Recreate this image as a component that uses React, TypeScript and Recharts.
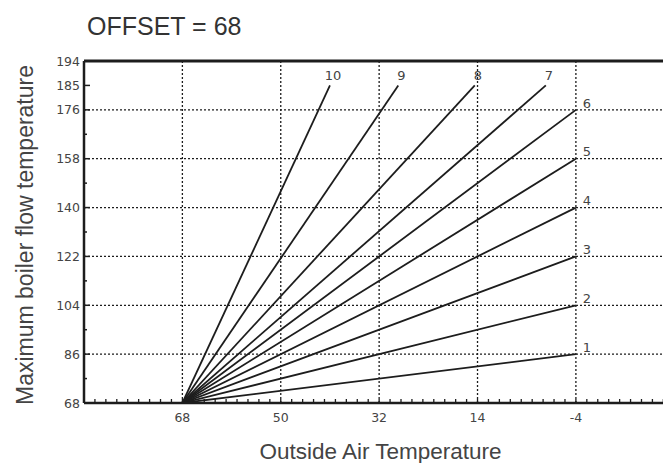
import React from 'react';
import { LineChart, Line, XAxis, YAxis, ReferenceLine, Label } from 'recharts';

// heating curves: every curve starts at the offset point and ends at its own max
const curveNames = ['1', '2', '3', '4', '5', '6', '7', '8', '9', '10'];
const originOutside = 68;
const originFlow = 68;
const endOutside = [-4, -4, -4, -4, -4, -4, 1.5, 14.5, 28.5, 41];
const endFlow = [86, 104, 122, 140, 158, 176, 185, 185, 185, 185];

const xLabels = [68, 50, 32, 14, -4];
const yLabels = [68, 86, 104, 122, 140, 158, 176, 185, 194];
const yGrid = [86, 104, 122, 140, 158, 176];
const xDomain: [number, number] = [-21.4, 86];
const yDomain: [number, number] = [68, 194];
const xMinorStep = 2;
const yMinorStep = 9;

const INK = '#1d1d1d';
const TEXT = '#444';
const SANS = '"Liberation Sans", Arial, sans-serif';
const TICK_FONT = '"DejaVu Sans", sans-serif';

const xTicks: number[] = [];
for (let v = xDomain[1]; v >= xDomain[0]; v -= xMinorStep) xTicks.push(v);
const yTicks: number[] = [];
for (let v = yDomain[0]; v <= yDomain[1]; v += yMinorStep) yTicks.push(v);

const curves = curveNames.map((name, i) => ({
  name,
  points: [
    { out: originOutside, flow: originFlow },
    { out: endOutside[i], flow: endFlow[i] },
  ],
}));

const YTick = (props: any) => {
  const { x, y, payload } = props;
  const major = yLabels.includes(payload.value);
  const axisX = x + 4;
  return (
    <g>
      <line x1={axisX} x2={axisX + (major ? 6 : 3)} y1={y} y2={y} stroke={INK} strokeWidth={1.5} />
      {major && (
        <text x={x} y={y} dy="0.36em" textAnchor="end" fill={TEXT} fontSize={12.5} fontFamily={TICK_FONT}>
          {payload.value}
        </text>
      )}
    </g>
  );
};

const XTick = (props: any) => {
  const { x, y, payload } = props;
  const major = xLabels.includes(payload.value);
  const axisY = y - 10;
  return (
    <g>
      <line x1={x} x2={x} y1={axisY} y2={axisY - 4} stroke={INK} strokeWidth={1.3} />
      {major && (
        <text x={x} y={y} dy="0.71em" textAnchor="middle" fill={TEXT} fontSize={12.5} fontFamily={TICK_FONT}>
          {payload.value}
        </text>
      )}
    </g>
  );
};

const endLabel = (name: string, onRight: boolean) => (props: any) => {
  if (props.index !== 1) return null;
  const dx = onRight ? 11 : 3;
  const dy = onRight ? -7 : -10;
  return (
    <text
      x={props.x + dx}
      y={props.y + dy}
      dy="0.36em"
      textAnchor="middle"
      fill={TEXT}
      fontSize={13}
      fontFamily={TICK_FONT}
    >
      {name}
    </text>
  );
};

export default function App() {
  return (
    <div style={{ position: 'relative', width: 663, height: 455, background: '#fff' }}>
      <div
        style={{
          position: 'absolute',
          left: 79,
          top: 6,
          fontFamily: SANS,
          fontSize: 25,
          lineHeight: '25px',
          color: '#333',
          whiteSpace: 'nowrap',
        }}
      >
        OFFSET = 68
      </div>
      <LineChart width={663} height={455} margin={{ top: 53, right: 0, bottom: 0, left: 0 }}>
        <XAxis
          type="number"
          dataKey="out"
          domain={xDomain}
          allowDataOverflow
          reversed
          ticks={xTicks}
          interval={0}
          height={60}
          tickSize={0}
          tickMargin={10}
          tickLine={false}
          tick={(p: any) => <XTick {...p} />}
          axisLine={{ stroke: INK, strokeWidth: 2.5 }}
        >
          <Label
            value="Outside Air Temperature"
            position="insideBottom"
            offset={4}
            dx={3}
            style={{ fontFamily: SANS, fontSize: 22.5, fill: TEXT }}
          />
        </XAxis>
        <YAxis
          type="number"
          dataKey="flow"
          domain={yDomain}
          allowDataOverflow
          ticks={yTicks}
          interval={0}
          width={76}
          tickSize={0}
          tickMargin={4}
          tickLine={false}
          tick={(p: any) => <YTick {...p} />}
          axisLine={{ stroke: INK, strokeWidth: 2.5 }}
        >
          <Label
            value="Maximum boiler flow temperature"
            angle={-90}
            position="insideLeft"
            offset={17}
            dy={3}
            style={{ fontFamily: SANS, fontSize: 23, fill: TEXT, textAnchor: 'middle' }}
          />
        </YAxis>
        {yGrid.map((v) => (
          <ReferenceLine key={`h${v}`} y={v} stroke={INK} strokeWidth={1.3} strokeDasharray="2 2" />
        ))}
        {xLabels.map((v) => (
          <ReferenceLine key={`v${v}`} x={v} stroke={INK} strokeWidth={1.3} strokeDasharray="2 2" />
        ))}
        <ReferenceLine y={yDomain[1]} stroke={INK} strokeWidth={3} />
        {curves.map((c, i) => (
          <Line
            key={c.name}
            data={c.points}
            dataKey="flow"
            name={c.name}
            stroke={INK}
            strokeWidth={1.8}
            dot={false}
            isAnimationActive={false}
            label={endLabel(c.name, endFlow[i] < yDomain[1] - 10)}
          />
        ))}
      </LineChart>
    </div>
  );
}
